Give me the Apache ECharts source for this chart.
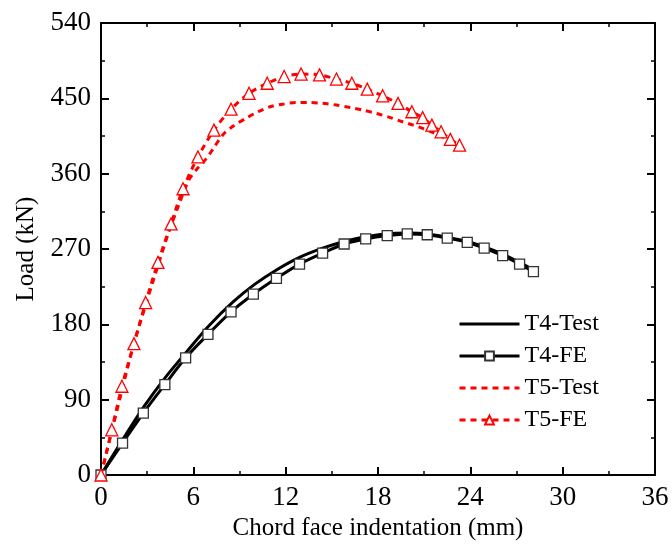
<!DOCTYPE html>
<html>
<head>
<meta charset="utf-8">
<script src="https://cdn.jsdelivr.net/npm/echarts@6/dist/echarts.min.js"></script>
<style>html,body{margin:0;padding:0;background:#fff}#c{width:672px;height:551px}</style>
</head>
<body>
<div id="c"></div>
<script>
const seriesNames = ['T4-Test', 'T4-FE', 'T5-Test', 'T5-FE'];
const xTicks = [0, 6, 12, 18, 24, 30, 36];
const yTicks = [0, 90, 180, 270, 360, 450, 540];

const t4Test = [[0,0],[1.4,42],[2.8,82],[4.2,117],[5.6,148],[7.0,178],[8.6,207],[10.0,228],[11.4,245],[12.9,260],[14.4,271],[15.8,279],[17.0,284],[18.5,288],[19.9,289],[21.2,288],[22.5,284],[23.8,279],[25.0,272],[26.1,264],[27.2,254],[28.1,245]];
const t4FE = [[0,0],[1.4,38],[2.75,74],[4.15,108],[5.5,140],[6.95,168],[8.45,195],[9.9,216],[11.4,235],[12.9,252],[14.4,265],[15.8,276],[17.2,282],[18.6,286],[19.9,288],[21.2,287],[22.5,283],[23.8,278],[24.9,271],[26.1,262],[27.2,252],[28.1,243]];
const t5Test = [[0,0],[0.7,52],[1.4,104],[2.1,154],[2.9,203],[3.7,250],[4.4,290],[5.0,320],[5.7,352],[6.3,367],[6.8,377],[7.3,390],[7.9,406],[8.6,417],[9.5,427],[10.2,434],[11.0,440],[11.8,443],[12.7,445],[13.5,445],[14.4,444],[15.3,442],[16.2,439],[17.0,436],[17.9,432],[18.8,427],[19.6,422],[20.3,418],[20.9,414],[21.6,409],[22.2,404],[22.9,398],[23.2,395]];
const t5FE = [[0,0],[0.7,54],[1.36,106],[2.14,157],[2.9,206],[3.7,254],[4.55,300],[5.33,342],[6.3,380],[7.34,412],[8.45,437],[9.62,456],[10.8,468],[11.9,476],[13.0,479],[14.2,478],[15.3,473],[16.3,468],[17.3,461],[18.3,453],[19.3,444],[20.2,434],[20.9,427],[21.5,418],[22.1,410],[22.7,401],[23.3,394]];

const FONT = 'Liberation Serif';
const chart = echarts.init(document.getElementById('c'), null, {renderer: 'canvas'});

function baseAxis(extra) {
  return Object.assign({
    axisLine: {show: true, onZero: false, lineStyle: {color: '#000', width: 2}},
    axisTick: {show: true, inside: true, length: 8, lineStyle: {color: '#000', width: 2}},
    minorTick: {show: true, splitNumber: 2, length: 4, lineStyle: {color: '#000', width: 1.5}},
    splitLine: {show: false},
    axisLabel: {color: '#000', fontFamily: FONT, fontSize: 27}
  }, extra);
}

chart.setOption({
  animation: false,
  backgroundColor: '#fff',
  grid: {left: 101, right: 17, top: 23, bottom: 76, containLabel: false},
  legend: {
    orient: 'vertical', left: 453, top: 307,
    itemWidth: 60, itemHeight: 11, itemGap: 8,
    lineStyle: {width: 3},
    data: [
      {name: seriesNames[0], itemStyle: {opacity: 0}},
      {name: seriesNames[1]},
      {name: seriesNames[2], itemStyle: {opacity: 0}},
      {name: seriesNames[3]}
    ],
    textStyle: {fontFamily: FONT, fontSize: 24, color: '#000'}
  },
  xAxis: [
    baseAxis({type: 'value', min: xTicks[0], max: xTicks[xTicks.length-1], interval: 6, position: 'bottom',
      name: 'Chord face indentation (mm)', nameLocation: 'middle', nameGap: 31,
      nameTextStyle: {fontFamily: FONT, fontSize: 25, color: '#000'},
      axisLabel: {color: '#000', fontFamily: FONT, fontSize: 27, margin: 9}}),
    baseAxis({type: 'value', min: xTicks[0], max: xTicks[xTicks.length-1], interval: 6, position: 'top',
      axisLabel: {show: false}})
  ],
  yAxis: [
    baseAxis({type: 'value', min: yTicks[0], max: yTicks[yTicks.length-1], interval: 90, position: 'left',
      name: 'Load (kN)', nameLocation: 'middle', nameGap: 62,
      nameTextStyle: {fontFamily: FONT, fontSize: 25, color: '#000'},
      axisLabel: {color: '#000', fontFamily: FONT, fontSize: 27, margin: 10}}),
    baseAxis({type: 'value', min: yTicks[0], max: yTicks[yTicks.length-1], interval: 90, position: 'right',
      axisLabel: {show: false}})
  ],
  series: [
    {name: seriesNames[0], type: 'line', data: t4Test, smooth: 0.3, symbol: 'none',
      lineStyle: {color: '#000', width: 3}, itemStyle: {color: '#000'}, z: 2},
    {name: seriesNames[1], type: 'line', data: t4FE, smooth: 0.3, symbol: 'rect', symbolSize: 10,
      lineStyle: {color: '#000', width: 3},
      itemStyle: {color: '#fff', borderColor: '#333', borderWidth: 1.3}, z: 3},
    {name: seriesNames[2], type: 'line', data: t5Test, smooth: 0.3, symbol: 'none',
      lineStyle: {color: '#ff0000', width: 3, type: [6, 5]}, itemStyle: {color: '#ff0000'}, z: 2},
    {name: seriesNames[3], type: 'line', data: t5FE, smooth: 0.3, symbol: 'triangle', symbolSize: 12,
      lineStyle: {color: '#ff0000', width: 3, type: [6, 5]},
      itemStyle: {color: '#fff', borderColor: '#ff0000', borderWidth: 1.3}, z: 4}
  ]
});
</script>
</body>
</html>
